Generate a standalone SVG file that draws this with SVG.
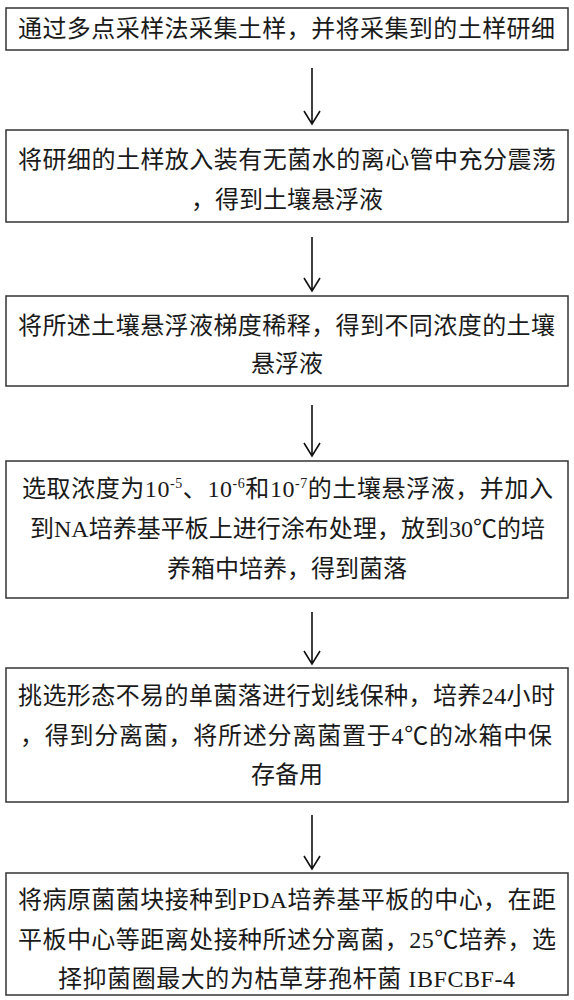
<svg xmlns="http://www.w3.org/2000/svg" width="574" height="1000" viewBox="0 0 574 1000">
<style>
.box{fill:#fff;stroke:#333;stroke-width:1.5}
.t{font-family:"Liberation Serif","Noto Sans CJK SC",serif;font-size:24px;fill:#1a1a1a;text-anchor:middle}
.sup{font-size:14px}
.c{stroke:#111;stroke-width:1.6;fill:none}
</style>
<rect width="574" height="1000" fill="#fff"/>
<g id="n1">
<rect class="box" x="6" y="8" width="562" height="42"/>
<text class="t" x="286.5" y="37" textLength="537">通过多点采样法采集土样，并将采集到的土样研细</text>
</g>
<g id="n2">
<rect class="box" x="6" y="130" width="562" height="92"/>
<text class="t" x="287" y="168" textLength="538">将研细的土样放入装有无菌水的离心管中充分震荡</text>
<text class="t" x="287" y="208">，得到土壤悬浮液</text>
</g>
<g id="n3">
<rect class="box" x="6" y="296" width="562" height="90"/>
<text class="t" x="286.5" y="334" textLength="537">将所述土壤悬浮液梯度稀释，得到不同浓度的土壤</text>
<text class="t" x="287" y="372">悬浮液</text>
</g>
<g id="n4">
<rect class="box" x="6" y="461" width="562" height="137"/>
<text class="t" x="287.5" y="497" textLength="531">选取浓度为10<tspan class="sup" dy="-9">-5</tspan><tspan dy="9">、10</tspan><tspan class="sup" dy="-9">-6</tspan><tspan dy="9">和10</tspan><tspan class="sup" dy="-9">-7</tspan><tspan dy="9">的土壤悬浮液，并加入</tspan></text>
<text class="t" x="287.5" y="537" textLength="515">到NA培养基平板上进行涂布处理，放到30℃的培</text>
<text class="t" x="287" y="577">养箱中培养，得到菌落</text>
</g>
<g id="n5">
<rect class="box" x="6" y="668" width="562" height="134"/>
<text class="t" x="286.5" y="704" textLength="537">挑选形态不易的单菌落进行划线保种，培养24小时</text>
<text class="t" x="286" y="744" textLength="532">，得到分离菌，将所述分离菌置于4℃的冰箱中保</text>
<text class="t" x="287" y="783">存备用</text>
</g>
<g id="n6">
<rect class="box" x="6" y="873" width="562" height="122"/>
<text class="t" x="287" y="908" textLength="538">将病原菌菌块接种到PDA培养基平板的中心，在距</text>
<text class="t" x="287" y="948" textLength="538">平板中心等距离处接种所述分离菌，25℃培养，选</text>
<text class="t" x="286.5" y="987" textLength="457">择抑菌圈最大的为枯草芽孢杆菌 IBFCBF-4</text>
</g>
<g id="connectors">
<path class="c" d="M312 68V124M304 111L312 124L320 111"/>
<path class="c" d="M312 237V291M304 278L312 291L320 278"/>
<path class="c" d="M312 405V456M304 443L312 456L320 443"/>
<path class="c" d="M312 612V664M304 651L312 664L320 651"/>
<path class="c" d="M312 815V869M304 856L312 869L320 856"/>
</g>
</svg>
